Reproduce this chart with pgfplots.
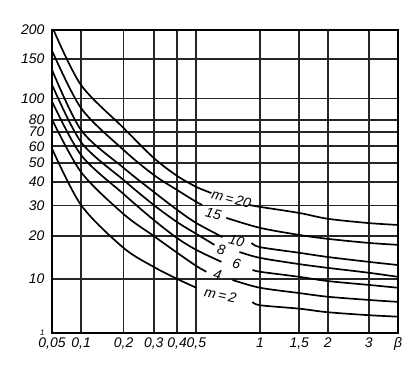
\documentclass[border=0pt]{standalone}
\usepackage{fontspec}
\setmainfont{Liberation Sans}
\usepackage{pgfplots}
\pgfplotsset{compat=1.18}
\begin{document}
\begin{tikzpicture}
\begin{axis}[
  name=ax,
  scale only axis, width=346bp, height=303bp,
  x coord trafo/.code={\pgfmathparse{log10(#1+0.1)}},
  x coord inv trafo/.code={\pgfmathparse{10^(#1)-0.1}},
  y coord trafo/.code={\pgfmathparse{log10(#1+10)}},
  y coord inv trafo/.code={\pgfmathparse{10^(#1)-10}},
  xmin=0.05, xmax=4, ymin=2, ymax=200,
  xtick={0.05,0.1,0.2,0.3,0.4,0.5,1,1.5,2,3,4},
  xticklabels={{0,05},{0,1},{0,2},{0,3},{0,4},{0,5},1,{1,5},2,3,β},
  ytick={10,20,30,40,50,60,70,80,100,150,200},
  yticklabels={10,20,30,40,50,60,70,80,100,150,200},
  extra y ticks={2}, extra y tick labels={\fontsize{8}{8}\selectfont 1},
  extra y tick style={grid=none},
  grid=major,
  major grid style={black!85, line width=1.8pt},
  axis line style={line width=2pt},
  major tick length=0pt,
  tick label style={font=\fontsize{14}{14}\selectfont\itshape},
  yticklabel style={xshift=-4bp},
  xticklabel style={yshift=-1bp},
  clip=true,
  curve/.style={black, solid, line width=1.7pt, smooth, mark=none},
]
% m = 20
\addplot[curve] coordinates {(0.054,200) (0.1,114.9) (0.2,73.2) (0.3,52.7) (0.4,42.9) (0.5,37.7) (0.593,35.0)};
\addplot[curve] coordinates {(0.896,30.2) (1,29.5) (1.5,27.3) (2,25.3) (3,23.9) (4,23.3)};
% m = 15
\addplot[curve] coordinates {(0.05,167.2) (0.1,90.5) (0.2,57.6) (0.3,43.4) (0.4,36.3) (0.5,31.4) (0.535,30.2)};
\addplot[curve] coordinates {(0.699,25.6) (1,22.4) (1.5,20.3) (2,19.2) (3,18.1) (4,17.6)};
% m = 10
\addplot[curve] coordinates {(0.05,138.1) (0.1,71.7) (0.2,47.1) (0.3,35.5) (0.4,28.4) (0.5,23.9) (0.670,19.7)};
\addplot[curve] coordinates {(0.916,18.1) (1,17.0) (1.5,15.6) (2,14.6) (3,13.5) (4,12.8)};
% m = 8
\addplot[curve] coordinates {(0.05,118.5) (0.1,62.9) (0.2,40.9) (0.3,30.2) (0.4,24.2) (0.5,20.6) (0.613,17.6)};
\addplot[curve] coordinates {(0.805,15.8) (1,14.4) (1.5,13.0) (2,12.2) (3,11.2) (4,10.4)};
% m = 6
\addplot[curve] coordinates {(0.05,99.4) (0.1,54.5) (0.2,34.6) (0.3,24.9) (0.4,19.4) (0.5,16.3) (0.662,13.5)};
\addplot[curve] coordinates {(0.925,11.8) (1,11.4) (1.5,10.4) (2,9.6) (3,8.9) (4,8.4)};
% m = 4
\addplot[curve] coordinates {(0.05,82.3) (0.1,44.9) (0.2,26.9) (0.3,20.0) (0.4,15.6) (0.5,12.6) (0.560,11.4)};
\addplot[curve] coordinates {(0.747,9.8) (1,8.4) (1.5,7.5) (2,6.9) (3,6.4) (4,6.1)};
% m = 2
\addplot[curve] coordinates {(0.05,60.2) (0.1,30.2) (0.2,16.8) (0.3,12.4) (0.4,10.0) (0.5,8.4)};
\addplot[curve] coordinates {(0.925,6.1) (1,5.6) (1.5,5.1) (2,4.6) (3,4.2) (4,4.0)};

\begin{scope}[every node/.style={font=\fontsize{14}{14}\selectfont\itshape, inner sep=0pt}]
\node[rotate=-14] at (axis cs:0.739,32.6) {m\,=\,20};
\node[rotate=-14] at (axis cs:0.606,26.9) {15};
\node[rotate=-14] at (axis cs:0.78,18.6) {10};
\node[rotate=-14] at (axis cs:0.662,16.3) {8};
\node[rotate=-14] at (axis cs:0.78,13.0) {6};
\node[rotate=-14] at (axis cs:0.634,10.8) {4};
\node[rotate=-12] at (axis cs:0.655,7.2) {m\,=\,2};
\end{scope}
\node[anchor=south west, inner sep=1pt, font=\fontsize{13}{13}\selectfont] at (rel axis cs:0,1) {$\xi_n$};
\end{axis}
\path ([xshift=-52bp,yshift=-37bp]ax.south west) rectangle ([xshift=20bp,yshift=30bp]ax.north east);
\end{tikzpicture}
\end{document}
